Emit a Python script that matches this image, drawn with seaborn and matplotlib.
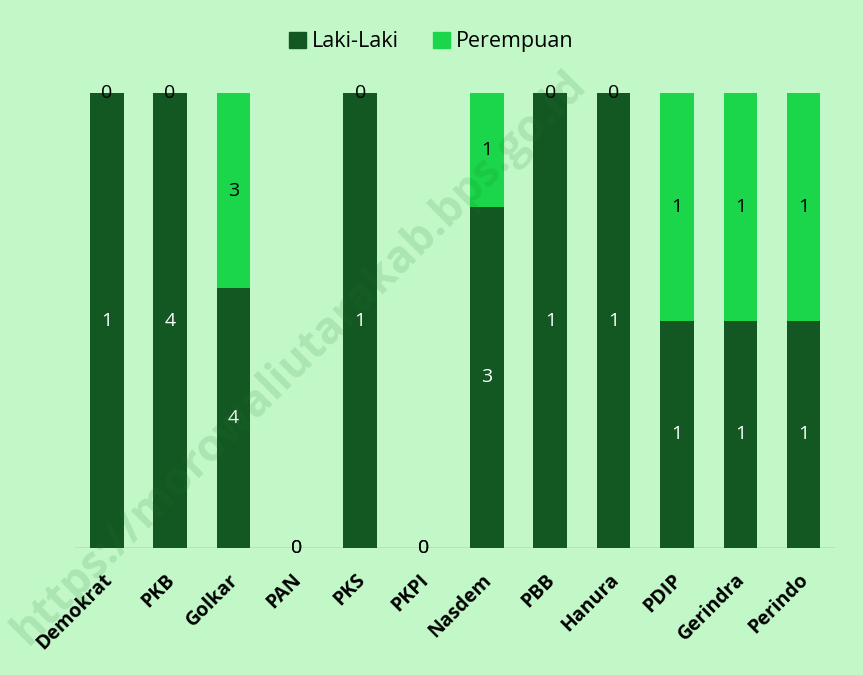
import matplotlib
matplotlib.use("Agg")
import matplotlib.pyplot as plt
import matplotlib.transforms as mtrans
from matplotlib.patches import Patch
import seaborn as sns
import pandas as pd

partai = ['Demokrat', 'PKB', 'Golkar', 'PAN', 'PKS', 'PKPI', 'Nasdem', 'PBB',
          'Hanura', 'PDIP', 'Gerindra', 'Perindo']
laki = [1, 4, 4, 0, 1, 0, 3, 1, 1, 1, 1, 1]
perempuan = [0, 0, 3, 0, 0, 0, 1, 0, 0, 1, 1, 1]

bg = '#c2f8c8'
dark = '#135722'
light = '#1bd64a'

sns.set_theme(style='white')
plt.rcParams['font.family'] = ['Open Sans', 'DejaVu Sans']
plt.rcParams['text.color'] = 'black'

df = pd.DataFrame({'partai': partai, 'laki': laki, 'perempuan': perempuan})
df['total'] = df['laki'] + df['perempuan']
df['full'] = (df['total'] > 0).astype(float)
df['p_laki'] = df['laki'] / df['total'].where(df['total'] > 0, 1)

fig = plt.figure(figsize=(8.63, 6.75), dpi=100, facecolor=bg)
ax = fig.add_axes([0.087, 0.188, 0.881, 0.674])
ax.set_facecolor(bg)

# stacked 100%: full bar in the light colour, male share drawn over it
sns.barplot(data=df, x='partai', y='full', color=light, width=0.53,
            saturation=1, ax=ax, edgecolor='none')
sns.barplot(data=df, x='partai', y='p_laki', color=dark, width=0.53,
            saturation=1, ax=ax, edgecolor='none')

for i, row in df.iterrows():
    pl = row['p_laki'] if row['total'] > 0 else 0
    ax.text(i, pl / 2, str(row['laki']), ha='center', va='center',
            fontsize=14, color='white' if row['laki'] > 0 else 'black')
    top = row['full']
    ax.text(i, pl + (top - pl) / 2, str(row['perempuan']), ha='center',
            va='center', fontsize=14, color='black')

ax.set_xlim(-0.5, len(partai) - 0.5)
ax.set_ylim(0, 1)
ax.axhline(0, color='#cfcfcf', lw=1.2, zorder=0.5)
sns.despine(ax=ax, left=True, bottom=True)
ax.set_yticks([])
ax.set_xlabel('')
ax.set_ylabel('')
ax.tick_params(axis='x', length=0, pad=5)
offset = mtrans.ScaledTranslation(-5 / 100, -15 / 100, fig.dpi_scale_trans)
for lab in ax.get_xticklabels():
    lab.set_rotation(45)
    lab.set_ha('right')
    lab.set_rotation_mode('anchor')
    lab.set_fontsize(14)
    lab.set_fontweight('bold')
    lab.set_color('black')
    lab.set_transform(lab.get_transform() + offset)

handles = [Patch(color=dark, label='Laki-Laki'), Patch(color=light, label='Perempuan')]
fig.legend(handles=handles, loc='center', bbox_to_anchor=(0.5, 0.938), ncol=2,
           frameon=False, fontsize=15.5, handlelength=0.75, handleheight=0.75,
           handletextpad=0.3, columnspacing=1.6)

fig.text(0.347, 0.47, 'https://morowaliutarakab.bps.go.id', rotation=45,
         ha='center', va='center', fontsize=32, fontweight='bold',
         color='#1e7a34', alpha=0.15)

fig.savefig('out.png', dpi=100, facecolor=bg)
